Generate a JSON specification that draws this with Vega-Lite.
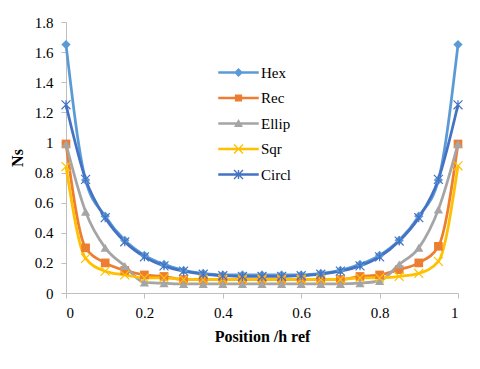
{
  "$schema": "https://vega.github.io/schema/vega-lite/v6.json",
  "width": 392,
  "height": 271,
  "autosize": {"type": "none"},
  "padding": {"left": 66, "top": 22, "right": 22, "bottom": 76},
  "background": "white",
  "config": {
    "view": {"stroke": null},
    "font": "Liberation Serif",
    "axis": {
      "grid": false,
      "domainColor": "#bfbfbf",
      "tickColor": "#bfbfbf",
      "tickSize": 5,
      "labelFont": "Liberation Serif",
      "labelFontSize": 15,
      "labelColor": "#000000",
      "titleFont": "Liberation Serif",
      "titleFontSize": 16,
      "titleFontWeight": "bold",
      "titleColor": "#000000"
    },
    "legend": {
      "title": null,
      "orient": "none",
      "legendX": 165,
      "legendY": 43,
      "padding": 0,
      "symbolSize": 81,
      "symbolOpacity": 1,
      "symbolStrokeWidth": 0,
      "rowPadding": 9.5,
      "labelOffset": 15,
      "labelFont": "Liberation Serif",
      "labelFontSize": 15,
      "labelFontWeight": "normal",
      "labelColor": "#000000"
    }
  },
  "data": {
    "values": [
      {"x": 0, "s": "Hex", "v": 1.65}, {"x": 0.05, "s": "Hex", "v": 0.75}, {"x": 0.1, "s": "Hex", "v": 0.51}, {"x": 0.15, "s": "Hex", "v": 0.35}, {"x": 0.2, "s": "Hex", "v": 0.25}, {"x": 0.25, "s": "Hex", "v": 0.19}, {"x": 0.3, "s": "Hex", "v": 0.15}, {"x": 0.35, "s": "Hex", "v": 0.13}, {"x": 0.4, "s": "Hex", "v": 0.12}, {"x": 0.45, "s": "Hex", "v": 0.12}, {"x": 0.5, "s": "Hex", "v": 0.12}, {"x": 0.55, "s": "Hex", "v": 0.12}, {"x": 0.6, "s": "Hex", "v": 0.12}, {"x": 0.65, "s": "Hex", "v": 0.13}, {"x": 0.7, "s": "Hex", "v": 0.15}, {"x": 0.75, "s": "Hex", "v": 0.19}, {"x": 0.8, "s": "Hex", "v": 0.25}, {"x": 0.85, "s": "Hex", "v": 0.35}, {"x": 0.9, "s": "Hex", "v": 0.51}, {"x": 0.95, "s": "Hex", "v": 0.75}, {"x": 1, "s": "Hex", "v": 1.65},
      {"x": 0, "s": "Rec", "v": 0.99}, {"x": 0.05, "s": "Rec", "v": 0.3}, {"x": 0.1, "s": "Rec", "v": 0.2}, {"x": 0.15, "s": "Rec", "v": 0.15}, {"x": 0.2, "s": "Rec", "v": 0.12}, {"x": 0.25, "s": "Rec", "v": 0.11}, {"x": 0.3, "s": "Rec", "v": 0.09}, {"x": 0.35, "s": "Rec", "v": 0.09}, {"x": 0.4, "s": "Rec", "v": 0.09}, {"x": 0.45, "s": "Rec", "v": 0.09}, {"x": 0.5, "s": "Rec", "v": 0.09}, {"x": 0.55, "s": "Rec", "v": 0.09}, {"x": 0.6, "s": "Rec", "v": 0.09}, {"x": 0.65, "s": "Rec", "v": 0.09}, {"x": 0.7, "s": "Rec", "v": 0.09}, {"x": 0.75, "s": "Rec", "v": 0.11}, {"x": 0.8, "s": "Rec", "v": 0.12}, {"x": 0.85, "s": "Rec", "v": 0.155}, {"x": 0.9, "s": "Rec", "v": 0.2}, {"x": 0.95, "s": "Rec", "v": 0.31}, {"x": 1, "s": "Rec", "v": 0.99},
      {"x": 0, "s": "Ellip", "v": 0.99}, {"x": 0.05, "s": "Ellip", "v": 0.54}, {"x": 0.1, "s": "Ellip", "v": 0.3}, {"x": 0.15, "s": "Ellip", "v": 0.18}, {"x": 0.2, "s": "Ellip", "v": 0.07}, {"x": 0.25, "s": "Ellip", "v": 0.065}, {"x": 0.3, "s": "Ellip", "v": 0.06}, {"x": 0.35, "s": "Ellip", "v": 0.06}, {"x": 0.4, "s": "Ellip", "v": 0.06}, {"x": 0.45, "s": "Ellip", "v": 0.06}, {"x": 0.5, "s": "Ellip", "v": 0.06}, {"x": 0.55, "s": "Ellip", "v": 0.06}, {"x": 0.6, "s": "Ellip", "v": 0.06}, {"x": 0.65, "s": "Ellip", "v": 0.06}, {"x": 0.7, "s": "Ellip", "v": 0.06}, {"x": 0.75, "s": "Ellip", "v": 0.065}, {"x": 0.8, "s": "Ellip", "v": 0.08}, {"x": 0.85, "s": "Ellip", "v": 0.19}, {"x": 0.9, "s": "Ellip", "v": 0.3}, {"x": 0.95, "s": "Ellip", "v": 0.555}, {"x": 1, "s": "Ellip", "v": 0.99},
      {"x": 0, "s": "Sqr", "v": 0.84}, {"x": 0.05, "s": "Sqr", "v": 0.23}, {"x": 0.1, "s": "Sqr", "v": 0.145}, {"x": 0.15, "s": "Sqr", "v": 0.12}, {"x": 0.2, "s": "Sqr", "v": 0.1}, {"x": 0.25, "s": "Sqr", "v": 0.1}, {"x": 0.3, "s": "Sqr", "v": 0.09}, {"x": 0.35, "s": "Sqr", "v": 0.09}, {"x": 0.4, "s": "Sqr", "v": 0.09}, {"x": 0.45, "s": "Sqr", "v": 0.09}, {"x": 0.5, "s": "Sqr", "v": 0.09}, {"x": 0.55, "s": "Sqr", "v": 0.09}, {"x": 0.6, "s": "Sqr", "v": 0.09}, {"x": 0.65, "s": "Sqr", "v": 0.09}, {"x": 0.7, "s": "Sqr", "v": 0.09}, {"x": 0.75, "s": "Sqr", "v": 0.1}, {"x": 0.8, "s": "Sqr", "v": 0.1}, {"x": 0.85, "s": "Sqr", "v": 0.11}, {"x": 0.9, "s": "Sqr", "v": 0.13}, {"x": 0.95, "s": "Sqr", "v": 0.21}, {"x": 1, "s": "Sqr", "v": 0.845},
      {"x": 0, "s": "Circl", "v": 1.25}, {"x": 0.05, "s": "Circl", "v": 0.755}, {"x": 0.1, "s": "Circl", "v": 0.5}, {"x": 0.15, "s": "Circl", "v": 0.34}, {"x": 0.2, "s": "Circl", "v": 0.24}, {"x": 0.25, "s": "Circl", "v": 0.18}, {"x": 0.3, "s": "Circl", "v": 0.145}, {"x": 0.35, "s": "Circl", "v": 0.125}, {"x": 0.4, "s": "Circl", "v": 0.115}, {"x": 0.45, "s": "Circl", "v": 0.11}, {"x": 0.5, "s": "Circl", "v": 0.11}, {"x": 0.55, "s": "Circl", "v": 0.11}, {"x": 0.6, "s": "Circl", "v": 0.115}, {"x": 0.65, "s": "Circl", "v": 0.125}, {"x": 0.7, "s": "Circl", "v": 0.145}, {"x": 0.75, "s": "Circl", "v": 0.18}, {"x": 0.8, "s": "Circl", "v": 0.24}, {"x": 0.85, "s": "Circl", "v": 0.345}, {"x": 0.9, "s": "Circl", "v": 0.5}, {"x": 0.95, "s": "Circl", "v": 0.755}, {"x": 1, "s": "Circl", "v": 1.25}
    ]
  },
  "encoding": {
    "x": {
      "field": "x", "type": "quantitative",
      "scale": {"domain": [0, 1], "nice": false},
      "axis": {"title": "Position /h ref", "values": [0, 0.2, 0.4, 0.6, 0.8, 1], "format": "~g", "labelPadding": 7, "titlePadding": 8, "labelFont": "Liberation Serif", "titleFont": "Liberation Serif"}
    },
    "y": {
      "field": "v", "type": "quantitative",
      "scale": {"domain": [0, 1.8], "nice": false},
      "axis": {"title": "Ns", "values": [0, 0.2, 0.4, 0.6, 0.8, 1, 1.2, 1.4, 1.6, 1.8], "format": "~g", "labelPadding": 8, "titlePadding": 9, "labelFont": "Liberation Serif", "titleFont": "Liberation Serif"}
    }
  },
  "layer": [
    {
      "mark": {"type": "point", "filled": true, "size": 0, "opacity": 1},
      "encoding": {
        "color": {
          "field": "s", "type": "nominal",
          "scale": {"domain": ["Hex", "Rec", "Ellip", "Sqr", "Circl"], "range": ["#5b9bd5", "#ed7d31", "#a5a5a5", "#ffc000", "#4472c4"]},
          "legend": {"title": null, "labelFont": "Liberation Serif", "labelFontSize": 15, "labelFontWeight": "normal", "symbolStrokeWidth": 0}
        },
        "shape": {
          "field": "s", "type": "nominal",
          "scale": {"domain": ["Hex", "Rec", "Ellip", "Sqr", "Circl"], "range": [
            "M-4.5,-0.3L4.5,-0.3L4.5,0.3L-4.5,0.3Z M0,-1L1,0L0,1L-1,0Z",
            "M-4.5,-0.3L4.5,-0.3L4.5,0.3L-4.5,0.3Z M-0.8,-0.8L0.8,-0.8L0.8,0.8L-0.8,0.8Z",
            "M-4.5,-0.3L4.5,-0.3L4.5,0.3L-4.5,0.3Z M0,-1L1,0.8L-1,0.8Z",
            "M-4.5,-0.3L4.5,-0.3L4.5,0.3L-4.5,0.3Z M-0.894,-1.106L1.106,0.894L0.894,1.106L-1.106,-0.894Z M1.106,-0.894L-0.894,1.106L-1.106,0.894L0.894,-1.106Z",
            "M-4.5,-0.3L4.5,-0.3L4.5,0.3L-4.5,0.3Z M-0.894,-1.106L1.106,0.894L0.894,1.106L-1.106,-0.894Z M1.106,-0.894L-0.894,1.106L-1.106,0.894L0.894,-1.106Z M-0.15,-1L0.15,-1L0.15,1L-0.15,1Z"
          ]},
          "legend": {"title": null, "labelFont": "Liberation Serif", "labelFontSize": 15, "labelFontWeight": "normal", "symbolStrokeWidth": 0}
        }
      }
    },
    {
      "mark": {"type": "line", "interpolate": "monotone", "strokeWidth": 2.75},
      "encoding": {
        "color": {"field": "s", "type": "nominal", "legend": null}
      }
    },
    {
      "transform": [{"filter": "datum.s === 'Hex'"}],
      "mark": {"type": "point", "filled": true, "shape": "diamond", "size": 85, "opacity": 1},
      "encoding": {"color": {"field": "s", "type": "nominal", "legend": null}}
    },
    {
      "transform": [{"filter": "datum.s === 'Rec'"}],
      "mark": {"type": "point", "filled": true, "shape": "square", "size": 75, "opacity": 1},
      "encoding": {"color": {"field": "s", "type": "nominal", "legend": null}}
    },
    {
      "transform": [{"filter": "datum.s === 'Ellip'"}],
      "mark": {"type": "point", "filled": true, "shape": "triangle-up", "size": 85, "opacity": 1},
      "encoding": {"color": {"field": "s", "type": "nominal", "legend": null}}
    },
    {
      "transform": [{"filter": "datum.s === 'Sqr'"}],
      "mark": {"type": "point", "filled": false, "shape": "M-1,-1L1,1M1,-1L-1,1", "size": 80, "opacity": 1, "strokeWidth": 1.2},
      "encoding": {"color": {"field": "s", "type": "nominal", "legend": null}}
    },
    {
      "transform": [{"filter": "datum.s === 'Circl'"}],
      "mark": {"type": "point", "filled": false, "shape": "M-1,-1L1,1M1,-1L-1,1M0,-1L0,1", "size": 80, "opacity": 1, "strokeWidth": 1.2},
      "encoding": {"color": {"field": "s", "type": "nominal", "legend": null}}
    }
  ]
}
